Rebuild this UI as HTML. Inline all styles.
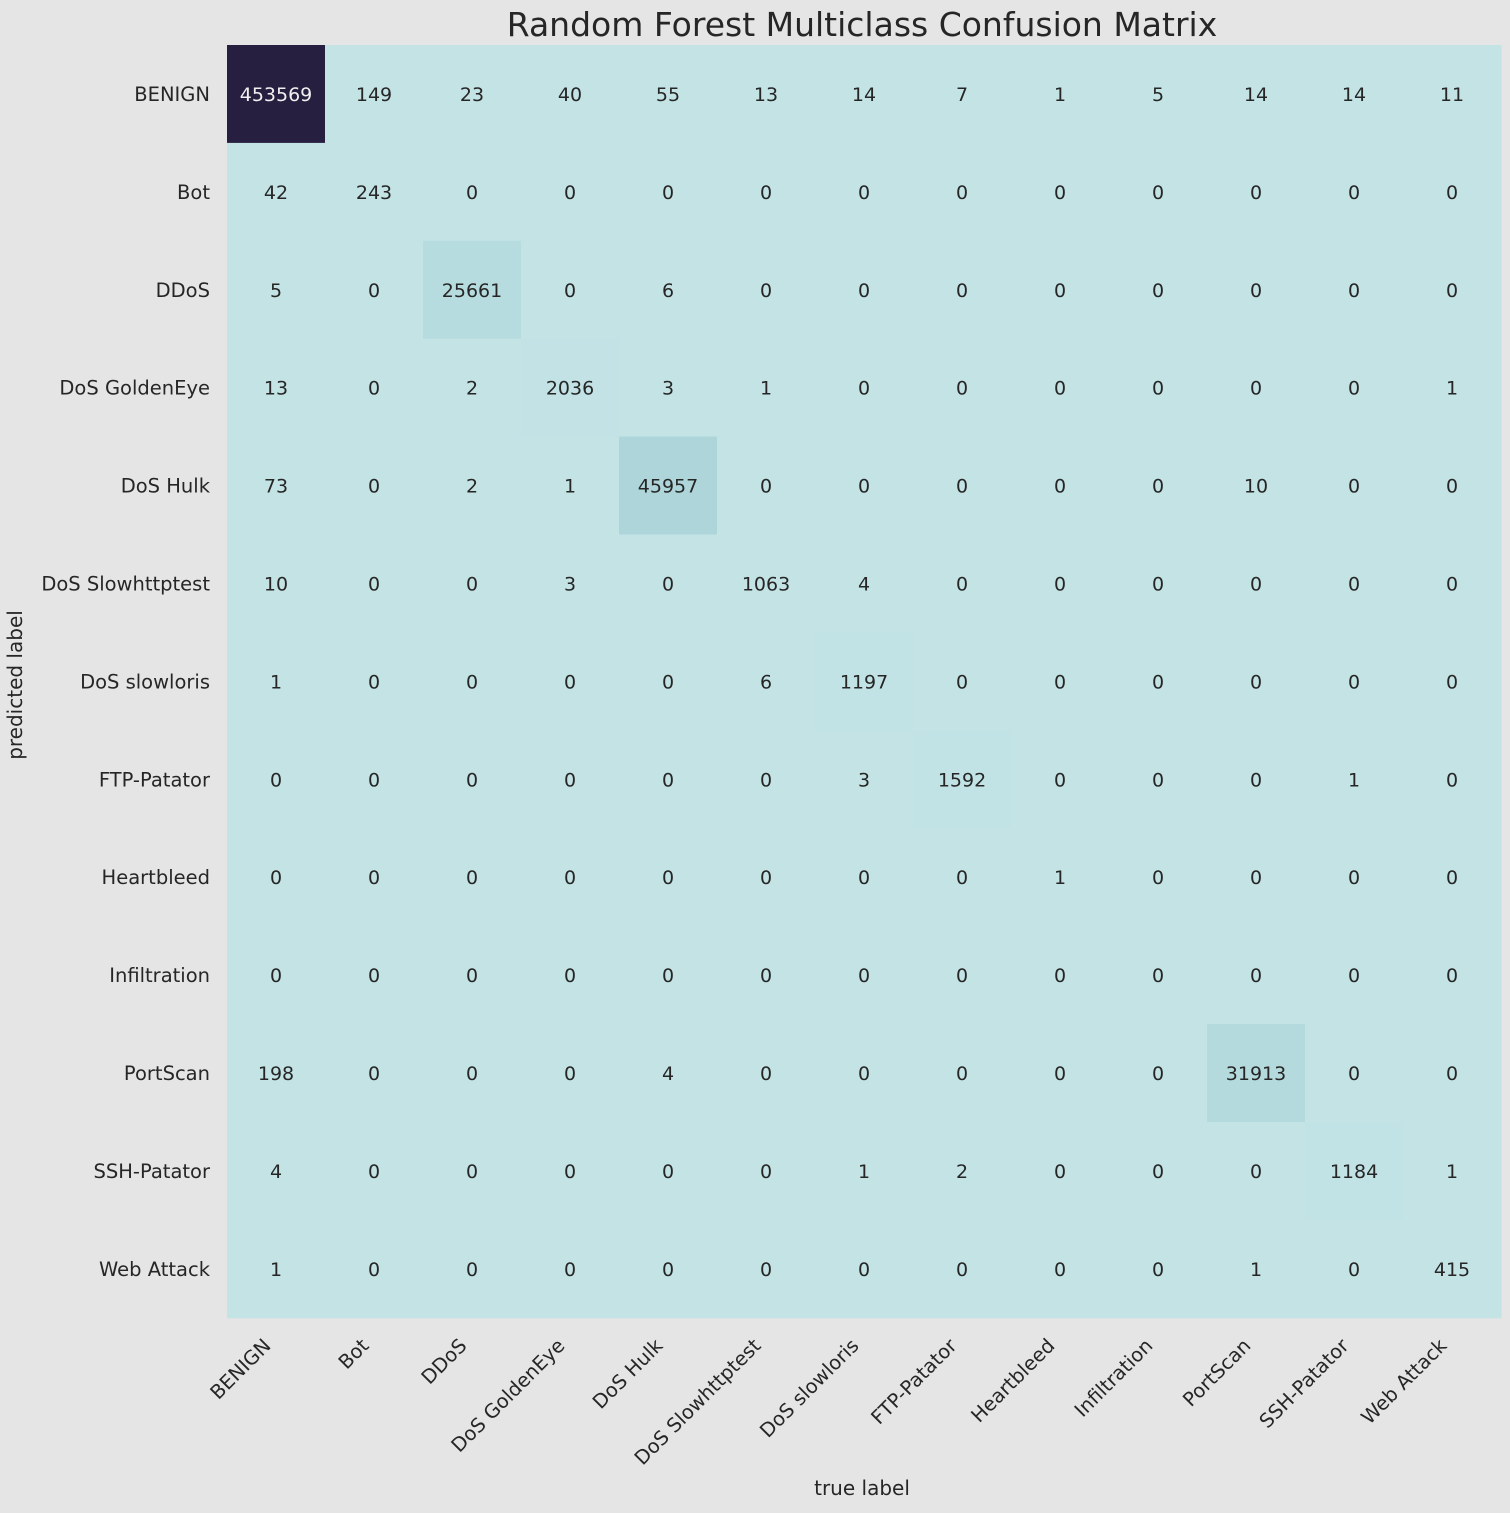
<!DOCTYPE html>
<html><head><meta charset="utf-8"><style>
body{margin:0;background:#e5e5e5;}
svg{display:block;font-family:"DejaVu Sans","Liberation Sans",sans-serif;}
</style></head><body>
<svg id="chart" width="1510" height="1513">
<rect width="1510" height="1513" fill="#e5e5e5"/>
<text x="862" y="36" font-size="33" text-anchor="middle" fill="#262626">Random Forest Multiclass Confusion Matrix</text>
<text x="862" y="1495" font-size="20" text-anchor="middle" fill="#262626">true label</text>
<text transform="translate(22,685) rotate(-90)" font-size="20" text-anchor="middle" fill="#262626">predicted label</text>
<g id="cells"></g><g id="ylabels"></g><g id="xlabels"></g>
</svg>
<script>
const labels=["BENIGN","Bot","DDoS","DoS GoldenEye","DoS Hulk","DoS Slowhttptest","DoS slowloris","FTP-Patator","Heartbleed","Infiltration","PortScan","SSH-Patator","Web Attack"];
const matrix=[
[453569,149,23,40,55,13,14,7,1,5,14,14,11],
[42,243,0,0,0,0,0,0,0,0,0,0,0],
[5,0,25661,0,6,0,0,0,0,0,0,0,0],
[13,0,2,2036,3,1,0,0,0,0,0,0,1],
[73,0,2,1,45957,0,0,0,0,0,10,0,0],
[10,0,0,3,0,1063,4,0,0,0,0,0,0],
[1,0,0,0,0,6,1197,0,0,0,0,0,0],
[0,0,0,0,0,0,3,1592,0,0,0,1,0],
[0,0,0,0,0,0,0,0,1,0,0,0,0],
[0,0,0,0,0,0,0,0,0,0,0,0,0],
[198,0,0,0,4,0,0,0,0,0,31913,0,0],
[4,0,0,0,0,0,1,2,0,0,0,1184,1],
[1,0,0,0,0,0,0,0,0,0,1,0,415]];
const X0=227,Y0=45,CW=98,CH=97.9;
const xPos=i=>X0+i*CW, yPos=j=>Y0+j*CH;
const ns="http://www.w3.org/2000/svg";
let max=0;matrix.forEach(r=>r.forEach(v=>{if(v>max)max=v;}));
const lo=[195,227,229],mid=[174,214,218],hi=[39,31,63];
function color(v){const t=v/max;let c;
 if(t<=0.1){const s=t/0.1;c=lo.map((x,k)=>x+(mid[k]-x)*s);}
 else{const s=(t-0.1)/0.9;c=mid.map((x,k)=>x+(hi[k]-x)*s);}
 return "rgb("+c.map(Math.round).join(",")+")";}
const cells=document.getElementById('cells');
matrix.forEach((row,j)=>row.forEach((v,i)=>{
 const r=document.createElementNS(ns,'rect');
 r.setAttribute('x',xPos(i));r.setAttribute('y',yPos(j));
 r.setAttribute('width',CW+0.5);r.setAttribute('height',CH+0.5);
 r.setAttribute('fill',color(v));
 
 
 cells.appendChild(r);
 const t=document.createElementNS(ns,'text');
 t.setAttribute('x',xPos(i)+CW/2);t.setAttribute('y',yPos(j)+CH/2+7);
 t.setAttribute('font-size','19');t.setAttribute('text-anchor','middle');
 t.setAttribute('fill',v/max>0.5?'#f0f0f0':'#262626');
 t.textContent=v;
 
 
 cells.appendChild(t);
}));
const yl=document.getElementById('ylabels'),xl=document.getElementById('xlabels');
labels.forEach((l,k)=>{
 const t=document.createElementNS(ns,'text');
 t.setAttribute('x',210);t.setAttribute('y',yPos(k)+CH/2+7);
 t.setAttribute('font-size','19.5');t.setAttribute('text-anchor','end');t.setAttribute('fill','#262626');
 t.textContent=l;
 
 
 yl.appendChild(t);
 const u=document.createElementNS(ns,'text');
 const cx=xPos(k)+CW/2;
 u.setAttribute('transform','translate('+(cx-14)+',1337) rotate(-45)');
 u.setAttribute('font-size','19.5');u.setAttribute('text-anchor','end');u.setAttribute('fill','#262626');
 u.setAttribute('dy','14');
 u.textContent=l;
 
 
 xl.appendChild(u);
});
</script>
</body></html>
